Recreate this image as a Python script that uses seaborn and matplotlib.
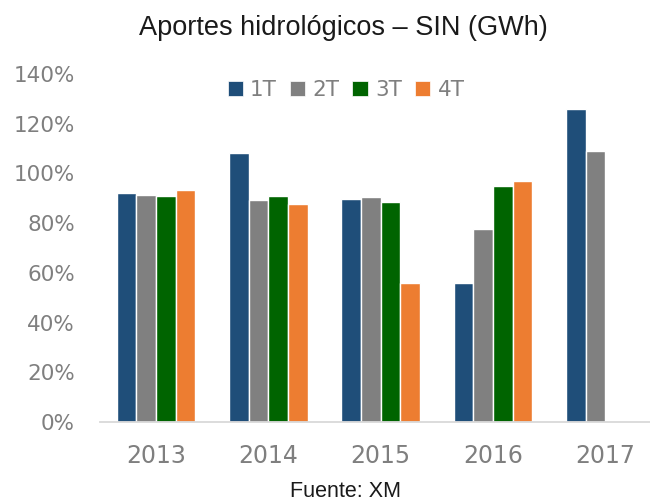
import matplotlib
matplotlib.use("Agg")
import matplotlib.pyplot as plt
import seaborn as sns
import pandas as pd
from matplotlib.patches import Patch

# Data (fraction of normal inflow)
years = ["2013", "2014", "2015", "2016", "2017"]
quarters = ["1T", "2T", "3T", "4T"]
q1 = [0.920, 1.081, 0.897, 0.558, 1.259]
q2 = [0.912, 0.892, 0.905, 0.778, 1.089]
q3 = [0.908, 0.908, 0.884, 0.948, None]
q4 = [0.933, 0.876, 0.558, 0.968, None]
colors = ["#1F4E79", "#808080", "#006400", "#ED7D31"]
ytick_vals = [0.0, 0.2, 0.4, 0.6, 0.8, 1.0, 1.2, 1.4]
ytick_labels = ["0%", "20%", "40%", "60%", "80%", "100%", "120%", "140%"]

rows = []
for q, vals in zip(quarters, [q1, q2, q3, q4]):
    for y, v in zip(years, vals):
        if v is not None:
            rows.append({"year": y, "quarter": q, "value": v})
df = pd.DataFrame(rows)

sns.set_style("white")
plt.rcParams["font.family"] = ["DejaVu Sans"]

fig = plt.figure(figsize=(6.5, 5.01), dpi=100)
ax = fig.add_axes([100 / 650, 79 / 501, 561.5 / 650, 348 / 501])

sns.barplot(data=df, x="year", y="value", hue="quarter", order=years,
            hue_order=quarters, palette=colors, saturation=1, width=0.7,
            edgecolor="white", linewidth=1, errorbar=None, ax=ax,
            legend=False)

ax.set_xlim(-0.5, 4.5)
ax.set_ylim(0, 1.4)
ax.set_yticks(ytick_vals)
ax.set_yticklabels(ytick_labels)
ax.set_xlabel("")
ax.set_ylabel("")

for s in ["top", "right", "left"]:
    ax.spines[s].set_visible(False)
ax.spines["bottom"].set_color("#d9d9d9")
ax.spines["bottom"].set_linewidth(1.3)

ax.tick_params(axis="y", length=0, pad=18, labelsize=15.5, labelcolor="#7f7f7f")
ax.tick_params(axis="x", length=0, pad=16, labelsize=17, labelcolor="#7f7f7f")

handles = [Patch(facecolor=c, edgecolor="white", linewidth=0.5) for c in colors]
fig.legend(handles, quarters, loc="center", bbox_to_anchor=(346 / 650, 1 - 90 / 501),
           ncol=4, frameon=False, fontsize=15.5, labelcolor="#7f7f7f",
           handlelength=0.7, handleheight=0.7, handletextpad=0.35,
           columnspacing=0.6)

fig.text(343 / 650, 1 - 35 / 501, "Aportes hidrológicos – SIN (GWh)",
         ha="center", va="baseline", fontsize=19.5,
         family=["Liberation Sans", "DejaVu Sans"], color="#1a1a1a")
fig.text(345 / 650, 1 - 497 / 501, "Fuente: XM", ha="center", va="baseline",
         fontsize=15.5, family=["Liberation Sans", "DejaVu Sans"],
         color="#1a1a1a")

plt.savefig("out.png", dpi=100)
